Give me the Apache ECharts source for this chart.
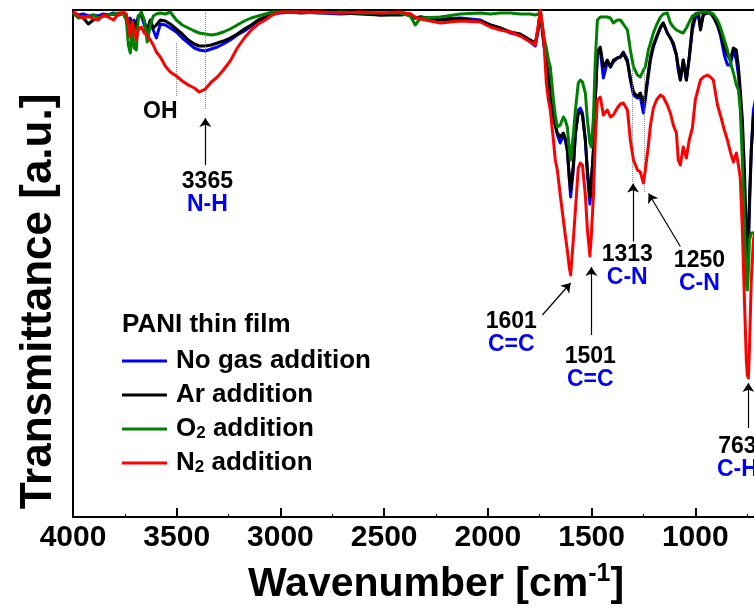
<!DOCTYPE html>
<html><head><meta charset="utf-8">
<script src="https://cdn.jsdelivr.net/npm/echarts@6/dist/echarts.min.js"></script>
<style>html,body{margin:0;padding:0;background:#fff}#c{width:754px;height:608px}</style>
</head><body><div id="c"></div>
<script>
// ---- data (wavenumber in cm-1, transmittance in a.u.) ----
const wavenumbers = [
4000,3974,3950,3926,3902,3878,3854,3830,3805,3781,3757,3743,3733,3724,3714,3705,3695,3685,3671,3656,
3642,3627,3613,3598,3579,3555,3531,3502,3473,3444,3415,3391,3362,3333,3304,3275,3242,3208,3174,3141,
3107,3073,3039,3000,2952,2904,
2808,2711,2615,2518,2422,2374,2350,2325,2229,2133,2036,1988,1940,1892,1844,1795,1771,1757,1747,
1732,1718,1708,1699,1684,1675,1665,1651,1636,1627,1617,1607,1601,1588,1578,1564,1554,1544,1530,1520,
1508,1501,1491,1482,1472,1458,1443,1424,1409,1395,1376,1361,1347,1327,1313,1298,1279,1265,1250,1241,
1226,1216,1202,1187,1168,1154,1135,1120,1106,1091,1082,1072,1058,1043,1029,1014,1000,985,975,961,
942,927,913,893,879,860,845,831,816,802,792,783,773,763,754,749,744,739,730,720,710];

const noGas = [
101.0,100.4,100.6,100.2,100.4,100.2,100.6,100.4,100.8,100.6,100.8,100.2,99.0,99.8,98.6,99.4,98.0,100.0,100.4,98.4,
96.0,99.0,97.4,95.8,98.6,98.4,97.8,97.0,95.8,94.8,93.8,93.4,93.2,93.6,94.0,94.6,95.4,96.4,97.2,98.2,
99.2,99.8,100.6,100.8,101.0,101.0,
100.8,100.6,100.8,100.4,100.6,100.4,99.8,100.0,99.6,99.8,99.4,98.4,97.8,96.8,96.4,95.0,94.2,97.4,101.2,
95.4,90.4,87.4,84.4,80.4,78.4,76.4,74.8,76.4,75.4,73.4,67.4,64.0,69.4,76.4,81.4,81.8,80.8,75.4,68.4,
62.6,66.4,73.4,83.4,92.4,93.4,87.8,91.0,90.0,91.0,91.8,92.0,93.0,91.4,87.4,84.4,83.8,84.0,80.8,83.4,
88.4,91.4,94.0,95.8,97.8,98.8,96.8,95.8,94.4,92.4,89.4,87.4,91.4,87.4,91.8,97.4,99.8,100.4,97.8,100.4,
100.8,100.8,100.2,98.4,96.4,92.4,90.4,90.4,93.4,91.4,88.4,83.4,75.4,63.4,54.4,52.8,54.4,61.4,73.4,81.4,83.4];

const arAdd = [
101.0,100.2,99.8,98.6,99.4,100.0,100.2,100.4,100.6,100.4,100.8,100.0,98.6,99.4,98.2,99.0,97.8,100.2,100.6,99.0,
97.4,99.4,97.8,98.4,99.4,99.2,98.6,97.6,96.6,95.4,94.6,94.2,94.2,94.4,94.8,95.2,95.8,96.6,97.6,98.4,
99.4,100.0,100.8,101.0,101.0,100.8,
101.0,100.8,100.6,100.4,100.4,100.6,99.8,100.0,99.4,99.6,99.2,98.4,97.8,97.0,96.6,95.4,94.8,97.8,101.2,
95.4,91.0,88.4,83.4,80.0,78.4,76.8,76.0,76.8,75.8,73.4,67.8,65.4,70.4,76.8,80.8,81.0,80.4,75.4,69.4,
64.0,67.4,73.4,83.4,93.0,94.0,90.0,91.4,90.0,91.4,91.8,92.0,92.8,91.0,87.8,85.0,84.0,84.8,82.8,84.4,
89.0,92.0,94.4,96.0,98.0,98.8,96.8,95.8,94.8,92.4,90.0,87.4,91.4,87.4,92.0,98.4,100.6,100.8,97.4,100.6,
100.8,100.8,100.0,98.4,96.8,94.0,92.4,91.4,93.8,93.4,90.0,85.4,79.4,69.4,56.4,51.8,55.4,63.4,73.4,80.0,81.4];

const o2Add = [
100.8,99.8,100.0,100.0,100.4,99.8,100.2,100.4,100.6,100.8,100.6,99.4,94.4,92.8,97.4,93.8,93.4,99.8,101.0,99.4,
95.0,98.4,100.2,100.6,100.8,100.6,101.0,99.4,98.4,97.8,97.2,96.8,96.6,96.4,96.6,97.0,97.6,98.4,99.2,99.8,
100.2,100.6,101.0,101.0,101.0,101.0,
100.8,101.0,100.8,100.8,100.8,100.2,98.4,99.8,100.0,100.6,100.8,100.6,100.8,100.8,100.6,100.6,100.4,100.6,101.2,
96.4,93.8,91.4,90.0,83.4,80.4,78.0,78.4,80.0,79.4,78.0,73.4,71.4,76.4,81.4,86.8,87.4,87.0,84.8,79.4,
74.8,74.0,80.0,91.4,99.4,100.0,100.0,100.0,99.8,98.8,99.4,99.4,98.6,97.4,93.4,90.0,88.4,88.0,89.4,90.0,
93.4,94.8,96.8,98.4,100.0,100.6,100.8,98.8,98.0,97.4,97.4,97.0,96.8,97.8,99.0,100.2,100.4,100.8,100.8,101.0,
101.0,100.8,100.6,99.4,98.0,95.4,93.4,91.0,88.8,86.4,85.4,81.4,71.4,59.4,46.4,45.4,49.4,55.4,56.8,56.8,56.8];

const n2Add = [
101.2,100.2,99.8,100.2,99.6,99.4,100.4,100.0,99.4,100.6,101.0,100.6,98.4,96.0,99.0,97.8,95.4,97.4,98.0,96.8,
96.4,95.4,94.4,93.0,92.0,90.2,89.0,88.2,87.2,86.4,85.8,85.0,85.6,87.0,88.0,89.4,91.2,93.8,95.8,97.4,
98.6,99.4,100.4,101.0,101.0,101.0,
101.0,100.8,101.0,100.8,101.0,100.6,100.0,99.6,98.8,99.2,99.0,98.0,97.4,97.0,96.2,95.0,94.4,98.4,101.4,
96.8,86.8,83.4,81.4,75.4,71.4,69.4,64.4,59.4,56.4,53.4,49.8,48.4,55.4,61.4,69.8,70.8,70.4,64.4,57.4,
52.2,56.4,64.4,75.4,83.4,84.0,80.4,81.4,80.0,80.4,81.8,82.6,82.8,81.4,75.4,71.4,69.4,69.0,66.8,69.4,
74.4,78.4,81.8,83.4,84.4,84.0,82.4,80.8,78.4,76.8,71.4,70.4,74.0,71.8,75.4,77.8,83.4,85.8,87.4,88.0,
88.4,88.0,87.4,82.4,80.4,77.4,75.4,73.0,71.0,72.8,70.4,67.8,57.4,43.4,31.4,28.4,27.8,33.4,47.4,55.4,57.4];

const seriesNames = ['No gas addition', 'Ar addition', 'O2 addition', 'N2 addition'];
const seriesColors = ['#0000ff', '#000000', '#008000', '#ff0000'];
const legendTitle = 'PANI thin film';

// peak annotations: label text placed at [wavenumber, transmittance]
const peakNumbers = ['3365', '1601', '1501', '1313', '1250', '763'];
const peakGroups  = ['N-H', 'C=C', 'C=C', 'C-N', 'C-N', 'C-H'];
const peakLabelAt = [[3352, 64.7], [1887, 36.7], [1506, 29.7], [1328, 50.2], [980, 49.0], [797, 11.8]];
// arrows: [from, to]
const peakArrows = [
  [[3362, 70.4], [3362, 79.8]],
  [[1737, 40.4], [1601, 46.8]],
  [[1501, 36.4], [1501, 50.0]],
  [[1300, 55.1], [1300, 66.7]],
  [[1072, 54.1], [1225, 64.7]],
  [[744, 17.8], [744, 26.8]]
];
// dotted guide lines
const guideLines = [
  [[3502, 94.8], [3502, 84.0]],
  [[3362, 101.0], [3362, 81.4]],
  [[1303, 90.4], [1303, 66.8]],
  [[1245, 90.8], [1245, 64.8]]
];
const ohLabelAt = [3579, 81.0];

const FONT = '"Liberation Sans", Arial, Helvetica, sans-serif';

const chart = echarts.init(document.getElementById('c'), null, {renderer: 'canvas'});

const series = [noGas, arAdd, o2Add, n2Add].map((vals, k) => ({
  name: seriesNames[k],
  type: 'line',
  data: wavenumbers.map((w, i) => [w, vals[i]]),
  symbol: 'none',
  showSymbol: false,
  lineStyle: {width: 3, color: seriesColors[k], join: 'round'},
  itemStyle: {color: seriesColors[k]},
  z: 2 + k,
  animation: false
}));

series[0].markLine = {
  silent: true, animation: false,
  symbol: ['none', 'none'],
  label: {show: false},
  lineStyle: {type: 'dotted', color: '#888', width: 1},
  data: guideLines.map(([a, b]) => [{coord: a}, {coord: b}])
};

series[3].markLine = {
  silent: true, animation: false,
  symbol: ['none', 'arrow'],
  symbolSize: 9,
  label: {show: false},
  lineStyle: {type: 'solid', color: '#000', width: 1.2},
  data: peakArrows.map(([a, b]) => [{coord: a}, {coord: b}])
};
const richStyles = {
  n: {fontFamily: FONT, fontSize: 23, fontWeight: 'bold', color: '#000', lineHeight: 23, align: 'center'},
  g: {fontFamily: FONT, fontSize: 23, fontWeight: 'bold', color: '#0000ff', lineHeight: 23, align: 'center'}
};
series[3].markPoint = {
  silent: true, animation: false,
  symbol: 'rect', symbolSize: 1,
  itemStyle: {color: 'rgba(0,0,0,0)'},
  data: peakNumbers.map((n, i) => ({
    coord: peakLabelAt[i],
    label: {show: true, position: 'inside', formatter: '{n|' + n + '}\n{g|' + peakGroups[i] + '}', rich: richStyles}
  })).concat([{
    coord: ohLabelAt,
    label: {show: true, position: 'inside', formatter: '{n|OH}', rich: richStyles}
  }])
};

const legendRich = {
  t: {fontFamily: FONT, fontSize: 26, fontWeight: 'bold', color: '#000', lineHeight: 26},
  s: {fontFamily: FONT, fontSize: 17, fontWeight: 'bold', color: '#000', lineHeight: 17, verticalAlign: 'bottom'}
};

chart.setOption({
  backgroundColor: '#fff',
  animation: false,
  title: {
    text: legendTitle, left: 122, top: 312, padding: 0,
    textStyle: {fontFamily: FONT, fontSize: 26, fontWeight: 'bold', color: '#000'}
  },
  legend: {
    data: seriesNames,
    orient: 'vertical',
    left: 122, top: 348,
    padding: 0,
    itemGap: 8,
    itemWidth: 45, itemHeight: 3,
    icon: 'rect',
    selectedMode: false,
    textStyle: {fontFamily: FONT, fontSize: 26, fontWeight: 'bold', color: '#000', padding: [0, 0, 0, 4], rich: legendRich},
    formatter: function (name) {
      const m = name.match(/^([ON])2(.*)$/);
      if (m) return '{t|' + m[1] + '}{s|2}{t|' + m[2] + '}';
      return '{t|' + name + '}';
    }
  },
  grid: {
    left: 73, top: 10, width: 726, height: 507,
    outerBoundsMode: 'none', containLabel: false,
    show: true, borderColor: '#000', borderWidth: 2, backgroundColor: 'transparent'
  },
  xAxis: {
    type: 'value', min: 500, max: 4000, interval: 500, inverse: true,
    axisLine: {show: true, onZero: false, lineStyle: {color: '#000', width: 2}},
    axisTick: {show: true, inside: true, length: 9, lineStyle: {color: '#000', width: 2}},
    minorTick: {show: true, splitNumber: 2, length: 3, lineStyle: {color: '#000', width: 1}},
    splitLine: {show: false},
    axisLabel: {margin: 6, fontFamily: FONT, fontSize: 30, fontWeight: 'bold', color: '#000',
      formatter: function (v) { return String(v); }},
    name: '{a|Wavenumber [cm}{sup|-1}{a|]}',
    nameLocation: 'middle', nameGap: 45,
    nameTextStyle: {
      fontFamily: FONT, fontSize: 41, fontWeight: 'bold', color: '#000',
      rich: {
        a: {fontFamily: FONT, fontSize: 41, fontWeight: 'bold', color: '#000', lineHeight: 46},
        sup: {fontFamily: FONT, fontSize: 25, fontWeight: 'bold', color: '#000', lineHeight: 25, verticalAlign: 'top'}
      }
    }
  },
  yAxis: {
    type: 'value', min: 0, max: 101.4,
    axisLine: {show: true, onZero: false, lineStyle: {color: '#000', width: 2}},
    axisTick: {show: false},
    axisLabel: {show: false},
    splitLine: {show: false},
    name: 'Transmittance [a.u.]',
    nameLocation: 'middle', nameGap: 12,
    nameTextStyle: {fontFamily: FONT, fontSize: 44, fontWeight: 'bold', color: '#000', padding: [0, 76, 0, 0]}
  },
  series: series
});
</script>
</body></html>
